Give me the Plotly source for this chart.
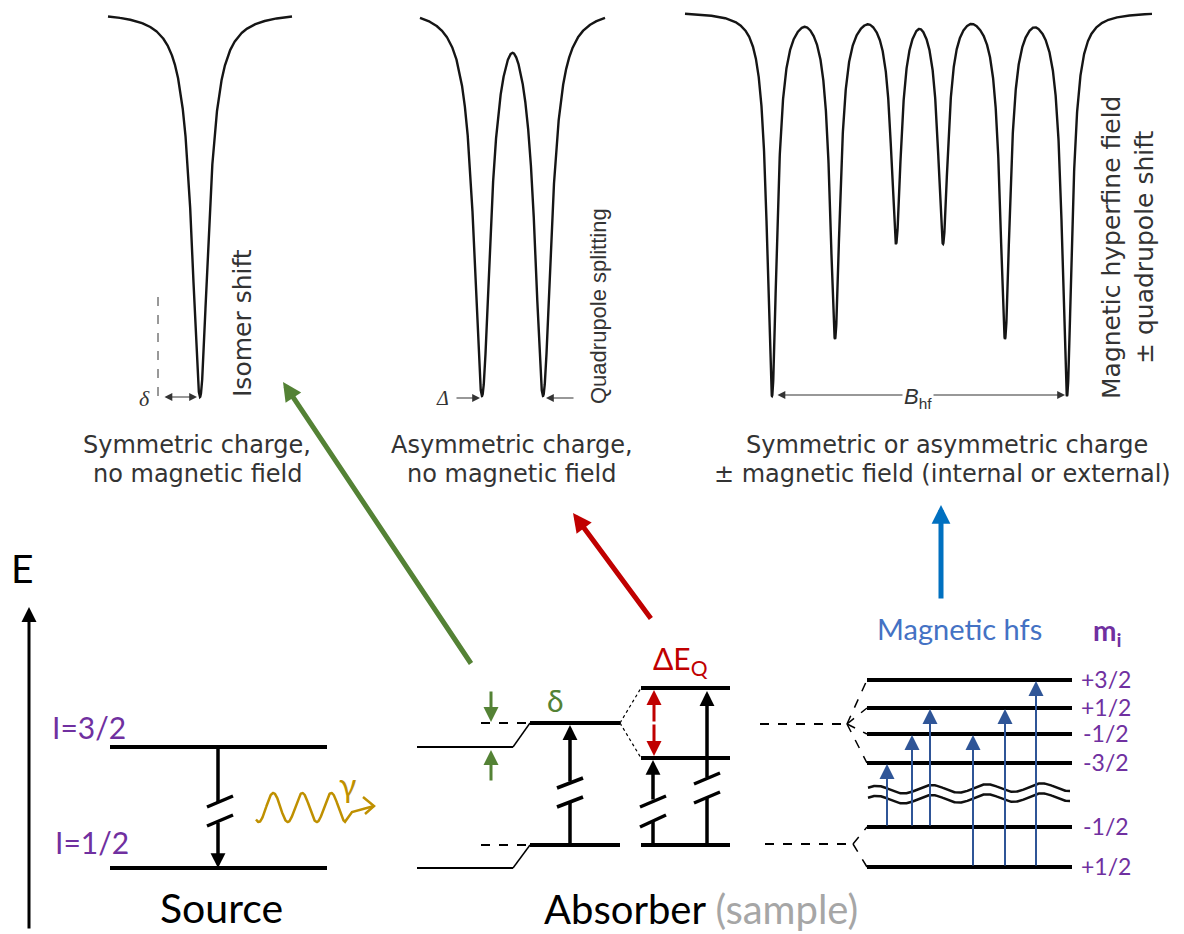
import numpy as np
import plotly.graph_objects as go

W, H = 1184, 934

# ---------------- Spectra (line positions / depths / half-widths) ----------------
spec1_pos = [200]
spec1_depth = [385]
spec2_pos = [482, 543]
spec2_depth = [388, 388]
spec3_pos = [772, 835, 896, 943, 1005, 1067]
spec3_depth = [384, 327, 232, 232, 327, 384]
spec_hw = [10, 10, 6]
spec_xrange = [(108, 292), (420, 605), (685, 1152)]
spec_base = [12, 8, 12]

# ---------------- Energy-level diagram ----------------
source_levels_y = [747, 868]
source_levels_x = [110, 327]
absorber_thin_y = [747, 868]
absorber_shift_y = [723, 845]
quad_levels_y = [688, 758, 845]
hfs_levels_y = [680, 708, 734, 763, 827, 867]
hfs_levels_x = [867, 1072]
mi_labels = ["+3/2", "+1/2", "-1/2", "-3/2", "-1/2", "+1/2"]
hfs_arrow_x = [887, 912, 930, 973, 1005, 1036]
hfs_arrow_from = [827, 827, 827, 867, 867, 867]
hfs_arrow_to = [763, 734, 708, 734, 708, 680]

fig = go.Figure()

# ---- spectra curves ----
def spectrum(pos, depth, hw, xr, base, k=4):
    x = np.linspace(xr[0], xr[1], 4000)
    acc = np.zeros_like(x)
    for c, d in zip(pos, depth):
        acc += (d * hw**2 / ((x - c) ** 2 + hw**2)) ** k
    return x, base + acc ** (1.0 / k)

for pos, dep, hw, xr, b in zip([spec1_pos, spec2_pos, spec3_pos],
                               [spec1_depth, spec2_depth, spec3_depth],
                               spec_hw, spec_xrange, spec_base):
    xs, ys = spectrum(pos, dep, hw, xr, b)
    fig.add_trace(go.Scatter(x=xs, y=ys, mode="lines",
                             line=dict(color="#151515", width=2.4), hoverinfo="skip"))

shapes = []
annos = []

def seg(x0, y0, x1, y1, color="black", width=2, dash="solid"):
    shapes.append(dict(type="line", xref="x", yref="y", x0=x0, y0=y0, x1=x1, y1=y1,
                       line=dict(color=color, width=width, dash=dash)))

def arrow(x0, y0, x1, y1, color="black", width=3, size=1.0, head=2, side="end"):
    annos.append(dict(x=x1, y=y1, ax=x0, ay=y0, xref="x", yref="y", axref="x", ayref="y",
                      text="", showarrow=True, arrowhead=head, arrowsize=size,
                      arrowwidth=width, arrowcolor=color, arrowside=side,
                      startarrowhead=head, startarrowsize=size))

def text(x, y, s, size, color="black", family="Lato", angle=0, xanchor="center", bg=None):
    d = dict(x=x, y=y, xref="x", yref="y", text=s, showarrow=False, textangle=angle,
             font=dict(size=size, color=color, family=family), xanchor=xanchor, yanchor="middle")
    if bg:
        d["bgcolor"] = bg
    annos.append(d)

SP = "#333333"
SPF = "DejaVu Sans"
# spectrum 1 annotations
seg(158, 297, 158, 402, color=SP, width=1, dash="dash")
arrow(163, 397, 197, 397, color=SP, width=1.2, size=1.3, side="end+start")
text(144, 398, "<i>δ</i>", 22, SP, "Liberation Serif")
text(242, 323, "Isomer shift", 25, SP, SPF, angle=-90)
# spectrum 2 annotations
text(442, 398, "<i>Δ</i>", 20, SP, "Liberation Serif")
arrow(455, 398, 480, 398, color=SP, width=1.2, size=1.3)
arrow(575, 398, 546, 398, color=SP, width=1.2, size=1.3)
text(598, 306, "Quadrupole splitting", 22, SP, "Liberation Sans", angle=-90)
# spectrum 3 annotations
arrow(776, 395, 1065, 395, color=SP, width=1.2, size=1.3, side="end+start")
text(918, 398, "<i>B</i><sub>hf</sub>", 22, SP, "Liberation Sans", bg="white")
text(1128, 248, "Magnetic hyperfine field<br>± quadrupole shift", 25, SP, SPF, angle=-90)

# captions
for (cx, cy, s) in [(197, 445, "Symmetric charge,"), (198, 474, "no magnetic field"),
                    (512, 445, "Asymmetric charge,"), (512, 474, "no magnetic field"),
                    (947, 445, "Symmetric or asymmetric charge"),
                    (942, 474, "± magnetic field (internal or external)")]:
    text(cx, cy, s, 24, SP, SPF)

# big coloured arrows
arrow(472, 665, 283, 382, color="#548235", width=5, size=0.75)
arrow(652, 620, 573, 513, color="#C00000", width=5, size=0.75)
arrow(941, 600, 941, 505, color="#0070C0", width=5, size=0.75)

# E axis
arrow(29, 930, 29, 607, width=3, size=1.0)
text(22, 568, "E", 39)

# Source
for y in source_levels_y:
    seg(source_levels_x[0], y, source_levels_x[1], y, width=4)
text(89, 727, "I=3/2", 30, "#7030A0")
text(92, 842, "I=1/2", 30, "#7030A0")
seg(218, 747, 218, 802, width=3.5)
arrow(218, 821, 218, 868, width=3.5, size=0.85)
seg(207, 807, 233, 796, width=3.5)
seg(207, 826, 233, 815, width=3.5)
text(221, 907, "Source", 41)

# gamma wave
gx = np.linspace(256, 345, 300)
gy = 807.5 - 14.5 * np.sin(2 * np.pi * (gx - 266) / 29)
gx = np.concatenate([gx, [352, 374]])
gy = np.concatenate([gy, [812, 806]])
fig.add_trace(go.Scatter(x=gx, y=gy, mode="lines", line=dict(color="#BF9000", width=2.5),
                         hoverinfo="skip"))
fig.add_trace(go.Scatter(x=[363, 374, 365], y=[797, 806, 814], mode="lines",
                         line=dict(color="#BF9000", width=2.5), hoverinfo="skip"))
text(347, 784, "γ", 32, "#BF9000")

# Absorber - isomer shift
for yt, ys in zip(absorber_thin_y, absorber_shift_y):
    seg(417, yt, 513, yt, width=2)
    seg(513, yt, 530, ys, width=1.5)
    seg(481, ys, 530, ys, width=2, dash="dash")
    seg(530, ys, 620, ys, width=4)
arrow(491, 690, 491, 722, color="#548235", width=3, size=1.0)
arrow(491, 782, 491, 750, color="#548235", width=3, size=1.0)
text(555, 700, "δ", 30, "#548235")
seg(570, 845, 570, 802, width=3.5)
arrow(570, 783, 570, 725, width=3.5, size=0.85)
seg(557, 788, 583, 778, width=3.5)
seg(557, 807, 583, 797, width=3.5)

# Absorber - quadrupole
seg(620, 723, 641, quad_levels_y[0], width=1.2, dash="dot")
seg(620, 723, 641, quad_levels_y[1], width=1.2, dash="dot")
for y in quad_levels_y:
    seg(641, y, 730, y, width=4)
arrow(654, 723, 654, 690, color="#C00000", width=3, size=1.0)
arrow(654, 723, 654, 756, color="#C00000", width=3, size=1.0)
text(680, 660, "ΔE<sub>Q</sub>", 30, "#C00000")
seg(653, 845, 653, 822, width=3.5)
arrow(653, 801, 653, 760, width=3.5, size=0.85)
seg(640, 807, 666, 796, width=3.5)
seg(640, 827, 666, 815, width=3.5)
seg(707, 845, 707, 798, width=3.5)
arrow(707, 779, 707, 691, width=3.5, size=0.85)
seg(694, 784, 720, 773, width=3.5)
seg(694, 803, 720, 792, width=3.5)
text(701, 909, "Absorber <span style='color:#A6A6A6'>(sample)</span>", 40)

# Hyperfine
seg(760, 724, 847, 724, width=2, dash="dash")
for y in hfs_levels_y[:4]:
    seg(847, 724, hfs_levels_x[0], y, width=1.5, dash="dash")
seg(765, 844, 853, 844, width=2, dash="dash")
for y in hfs_levels_y[4:]:
    seg(853, 844, hfs_levels_x[0], y, width=1.5, dash="dash")
for y, lab in zip(hfs_levels_y, mi_labels):
    seg(hfs_levels_x[0], y, hfs_levels_x[1], y, width=4)
    text(1106, y - 1, lab, 23, "#7030A0")
text(1107, 632, "<b>m<sub>i</sub></b>", 28, "#7030A0")
for xa, y0, y1 in zip(hfs_arrow_x, hfs_arrow_from, hfs_arrow_to):
    arrow(xa, y0, xa, y1 + 1, color="#2F5597", width=2, size=1.5)
wx = np.linspace(868, 1070, 300)
for off in [0, 10]:
    wy = 790 + off - 4 * np.sin(2 * np.pi * (wx - 868) / 55 + 0.6) - (wx - 868) * 0.015
    fig.add_trace(go.Scatter(x=wx, y=wy, mode="lines", line=dict(color="#111111", width=2.5),
                             hoverinfo="skip"))
text(959, 628, "Magnetic hfs", 29, "#4472C4")

fig.update_layout(
    width=W, height=H, margin=dict(l=0, r=0, t=0, b=0),
    plot_bgcolor="white", paper_bgcolor="white", showlegend=False,
    xaxis=dict(range=[0, W], visible=False, fixedrange=True),
    yaxis=dict(range=[H, 0], visible=False, fixedrange=True),
    shapes=shapes, annotations=annos,
)
fig.write_html("out.html")
